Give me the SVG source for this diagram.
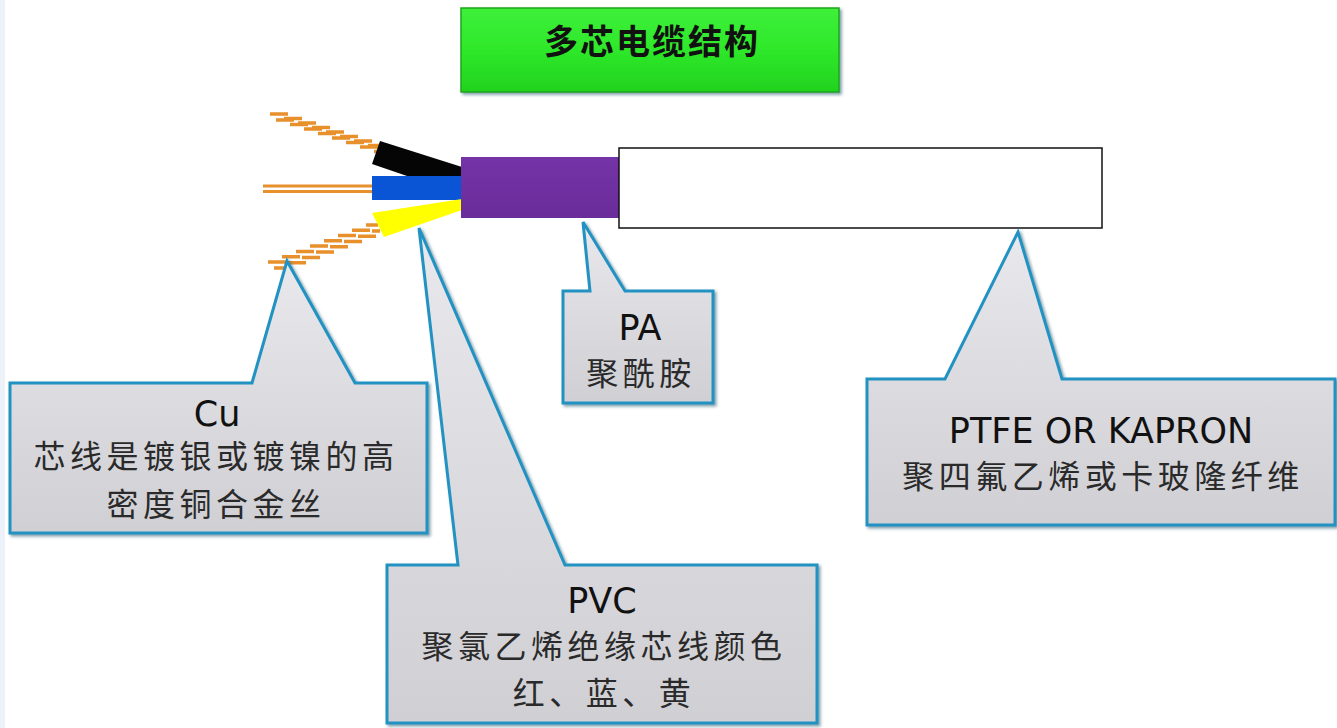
<svg xmlns="http://www.w3.org/2000/svg" width="1337" height="728" viewBox="0 0 1337 728">
  <defs>
    <linearGradient id="calloutFill" x1="0" y1="0" x2="0" y2="1">
      <stop offset="0" stop-color="#e9e9ed"/>
      <stop offset="0.5" stop-color="#dcdce0"/>
      <stop offset="1" stop-color="#cfcfd4"/>
    </linearGradient>
    <linearGradient id="titleFill" x1="0" y1="0" x2="0" y2="1">
      <stop offset="0" stop-color="#3ef03a"/>
      <stop offset="0.5" stop-color="#2ee82a"/>
      <stop offset="1" stop-color="#22d21e"/>
    </linearGradient>
    <linearGradient id="sheath" x1="0" y1="0" x2="0" y2="1">
      <stop offset="0" stop-color="#7433a6"/>
      <stop offset="1" stop-color="#6a2c9a"/>
    </linearGradient>
    <filter id="bevel" x="-5%" y="-5%" width="110%" height="115%">
      <feGaussianBlur in="SourceAlpha" stdDeviation="1.5" result="b"/>
      <feOffset in="b" dx="2" dy="2" result="o"/>
      <feFlood flood-color="#1a4f63" flood-opacity="0.55"/>
      <feComposite in2="o" operator="in" result="s"/>
      <feMerge>
        <feMergeNode in="s"/>
        <feMergeNode in="SourceGraphic"/>
      </feMerge>
    </filter>
  </defs>
  <style>
    .callout { fill: url(#calloutFill); stroke: #2392c2; stroke-width: 3; stroke-linejoin: miter; filter: url(#bevel); }
    .latin { font-family: "DejaVu Sans", "Noto Sans CJK SC", sans-serif; font-size: 35px; fill: #111; text-anchor: middle; }
    .cjk { font-family: "Noto Sans CJK SC", sans-serif; font-size: 32px; letter-spacing: 4.5px; fill: #2a2a2a; text-anchor: middle; }
    .strand { fill: none; stroke: #e8902c; stroke-width: 3; }
    .twist { fill: none; stroke: #e8902c; stroke-width: 3.5; }
  </style>

  <!-- page background with pale left margin -->
  <rect x="0" y="0" width="1337" height="728" fill="#ffffff"/>
  <rect x="0" y="0" width="5" height="728" fill="#edf2fa"/>

  <!-- title -->
  <g id="title">
    <rect x="461" y="8" width="378" height="84" fill="url(#titleFill)" stroke="#1fa51c" stroke-width="1.5" filter="url(#bevel)"/>
    <text x="652" y="54" font-family="Noto Sans CJK SC, sans-serif" font-size="34" font-weight="bold" letter-spacing="2" text-anchor="middle" fill="#111">多芯电缆结构</text>
  </g>

  <!-- cable drawing -->
  <g id="cable">
    <!-- copper conductors: two twisted strands drawn as stepped bars, one straight pair -->
    <path class="twist" d="M270,114h18 M284,118.5h18 M298,123h18 M312,127.5h18 M326,132h18 M340,136.5h18 M354,141h18 M368,145.5h12"/>
    <path class="twist" d="M276,120h18 M290,124.5h18 M304,129h18 M318,133.5h18 M332,138h18 M346,142.5h18 M360,147h18 M374,151.5h6"/>
    <line class="strand" x1="263" y1="186" x2="374" y2="186"/>
    <line class="strand" x1="263" y1="191.5" x2="374" y2="191.5"/>
    <path class="twist" d="M268,262h18 M282,256.7h18 M296,251.4h18 M310,246.1h18 M324,240.8h18 M338,235.5h18 M352,230.2h18 M366,224.9h12"/>
    <path class="twist" d="M274,268h18 M288,262.7h18 M302,257.4h18 M316,252.1h18 M330,246.8h18 M344,241.5h18 M358,236.2h18 M372,230.9h8"/>
    <!-- insulated cores -->
    <polygon points="380,141 462,167 462,177 410,177 372,164" fill="#050505"/>
    <rect x="372" y="176" width="91" height="24" fill="#0a55d6"/>
    <polygon points="372,213 462,199 462,210 384,237" fill="#ffff00"/>
    <!-- inner sheath -->
    <rect x="461" y="157" width="158" height="61" fill="url(#sheath)"/>
    <!-- outer braid -->
    <rect x="619" y="148" width="483" height="80" fill="#ffffff" stroke="#111" stroke-width="1.5"/>
  </g>

  <!-- callouts -->
  <g id="callout-cu">
    <path class="callout" d="M10,383 L252,383 L287,261 L355,383 L427,383 L427,533 L10,533 Z"/>
    <text class="latin" x="217" y="426">Cu</text>
    <text class="cjk" x="216" y="468">芯线是镀银或镀镍的高</text>
    <text class="cjk" x="216" y="516">密度铜合金丝</text>
  </g>

  <g id="callout-pvc">
    <path class="callout" d="M387,565 L458,565 L419,228 L565,565 L817,565 L817,723 L387,723 Z"/>
    <text class="latin" x="602" y="613">PVC</text>
    <text class="cjk" x="604" y="658">聚氯乙烯绝缘芯线颜色</text>
    <text class="cjk" x="604" y="705">红、蓝、黄</text>
  </g>

  <g id="callout-pa">
    <path class="callout" d="M563,291 L590,291 L583,222 L625,291 L713,291 L713,403 L563,403 Z"/>
    <text class="latin" x="640" y="340">PA</text>
    <text class="cjk" x="641" y="385" font-size="31">聚酰胺</text>
  </g>

  <g id="callout-ptfe">
    <path class="callout" d="M867,379 L945,379 L1018,232 L1062,379 L1335,379 L1335,525 L867,525 Z"/>
    <text class="latin" x="1101" y="443">PTFE OR KAPRON</text>
    <text class="cjk" x="1103" y="488">聚四氟乙烯或卡玻隆纤维</text>
  </g>
</svg>
